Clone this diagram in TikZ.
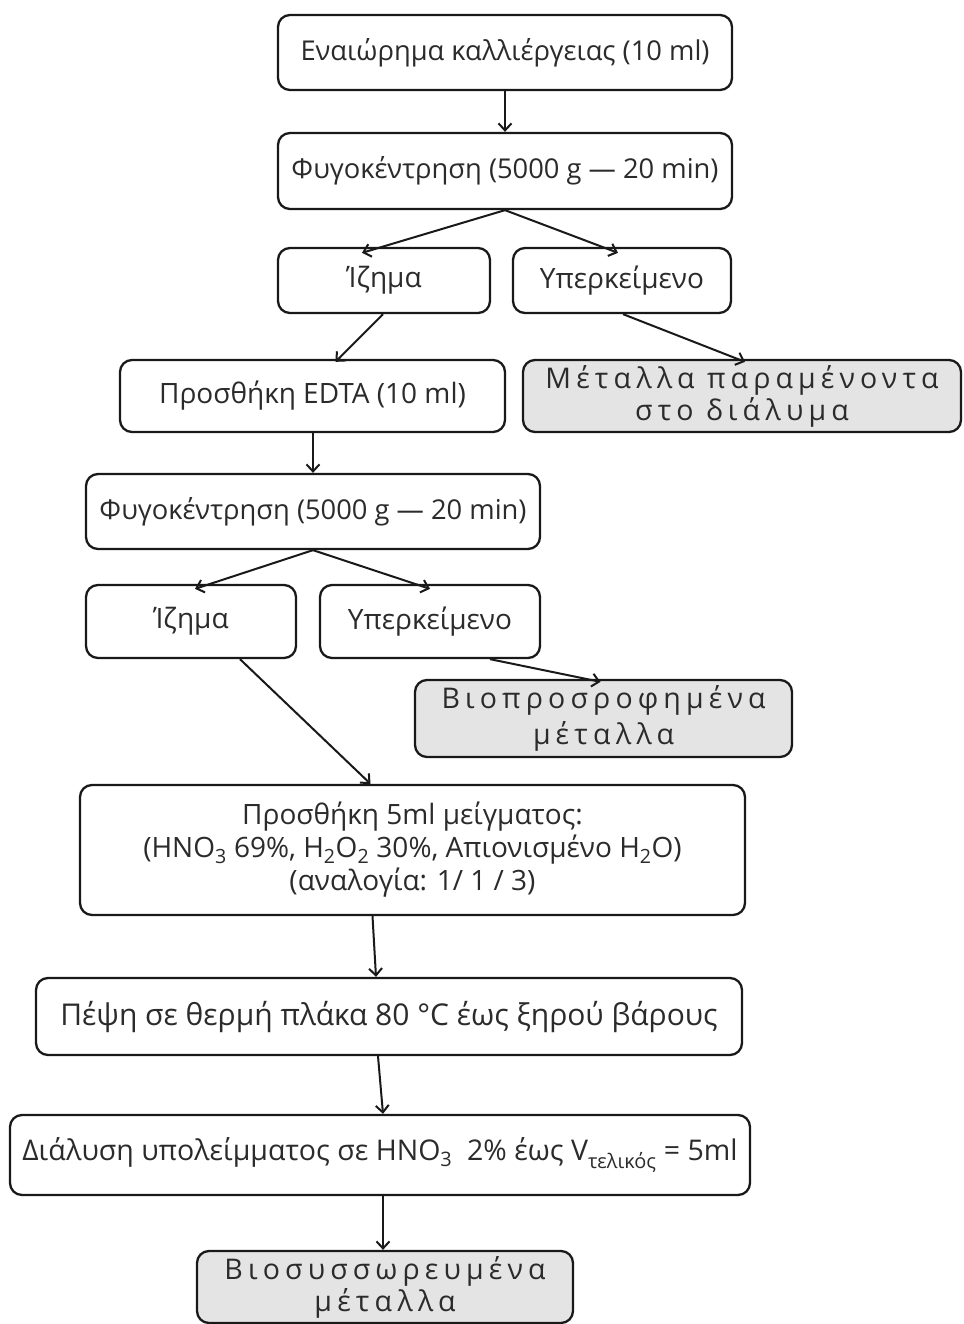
\documentclass[tikz,border=0pt]{standalone}
\usepackage{fontspec}
\setmainfont{Open Sans}
\newfontfamily\spacedfont[LetterSpace=18]{Open Sans}
\usetikzlibrary{arrows.meta,calc}
\definecolor{txt}{HTML}{2B2B2B}
\definecolor{grayfill}{HTML}{E4E4E4}
\tikzset{
  stepbox/.style={draw=black!90, line width=2.3pt, rounded corners=12pt, fill=white,
     text=txt, align=center, inner sep=0pt, font=\fontsize{28}{30}\selectfont},
  resbox/.style={stepbox, fill=grayfill, font=\spacedfont\fontsize{28.5}{32}\selectfont},
  conn/.style={draw=black!90, line width=2pt, -{Straight Barb[length=7pt,width=13pt,line width=2pt]}},
}
\begin{document}
\begin{tikzpicture}[x=1pt,y=-1pt]
\useasboundingbox (0,0) rectangle (963,1324);
\node[stepbox, minimum width=454pt, minimum height=75pt, font=\fontsize{27.3}{30}\selectfont] (b1) at (505,52.5) {Εναιώρημα καλλιέργειας (10 ml)};
\node[stepbox, minimum width=454pt, minimum height=76pt, font=\fontsize{27.3}{30}\selectfont] (b2) at (505,171) {Φυγοκέντρηση (5000 g — 20 min)};
\node[stepbox, minimum width=212pt, minimum height=65pt] (i1) at (384,280.5) {Ίζημα};
\node[stepbox, minimum width=218pt, minimum height=65pt] (y1) at (622,280.5) {Υπερκείμενο};
\node[stepbox, minimum width=385pt, minimum height=72pt] (edta) at (312.5,396) {Προσθήκη EDTA (10 ml)};
\node[resbox, minimum width=438pt, minimum height=72pt] (m1) at (742,396) {Μέταλλα παραμένοντα\\στο διάλυμα};
\node[stepbox, minimum width=454pt, minimum height=75pt, font=\fontsize{27.3}{30}\selectfont] (f2) at (313,511.5) {Φυγοκέντρηση (5000 g — 20 min)};
\node[stepbox, minimum width=210pt, minimum height=73pt] (i2) at (191,621.5) {Ίζημα};
\node[stepbox, minimum width=220pt, minimum height=73pt] (y2) at (430,621.5) {Υπερκείμενο};
\node[resbox, minimum width=377pt, minimum height=77pt, font=\spacedfont\fontsize{28.5}{36}\selectfont] (bio) at (603.5,718.5) {Βιοπροσροφημένα\\μέταλλα};
\node[stepbox, minimum width=665pt, minimum height=130pt, font=\fontsize{28}{33}\selectfont] (add) at (412.5,850) {Προσθήκη 5ml μείγματος:\\(HNO\textsubscript{3} 69\%, H\textsubscript{2}O\textsubscript{2} 30\%, Απιονισμένο H\textsubscript{2}O)\\(αναλογία: 1/ 1 / 3)};
\node[stepbox, minimum width=706pt, minimum height=77pt, font=\fontsize{30}{32}\selectfont] (pep) at (389,1016.5) {Πέψη σε θερμή πλάκα 80 °C έως ξηρού βάρους};
\node[stepbox, minimum width=740pt, minimum height=80pt, font=\fontsize{28.5}{32}\selectfont] (dial) at (380,1155) {Διάλυση υπολείμματος σε HNO\textsubscript{3}\ \ 2\% έως V\textsubscript{τελικός} = 5ml};
\node[resbox, minimum width=376pt, minimum height=72pt] (fin) at (385,1287) {Βιοσυσσωρευμένα\\μέταλλα};

\draw[conn] (b1.south) -- (b2.north);
\draw[conn] (b2.south) -- ([xshift=-22pt,yshift=-6pt]i1.north);
\draw[conn] (b2.south) -- ([xshift=-4pt,yshift=-6pt]y1.north);
\draw[conn] ([xshift=-1pt]i1.south) -- ([xshift=23pt,yshift=-3pt]edta.north);
\draw[conn] ([xshift=1pt]y1.south) -- ([xshift=3pt,yshift=-3pt]m1.north);
\draw[conn] ([xshift=0.5pt]edta.south) -- (f2.north);
\draw[conn] (f2.south) -- ([xshift=4pt,yshift=-5pt]i2.north);
\draw[conn] (f2.south) -- ([yshift=-5pt]y2.north);
\draw[conn] ([xshift=49pt]i2.south) -- ([xshift=-42pt]add.north);
\draw[conn] ([xshift=60pt]y2.south) -- ([xshift=-3pt,yshift=-3pt]bio.north);
\draw[conn] ([xshift=-40pt]add.south) -- ([xshift=-13pt]pep.north);
\draw[conn] ([xshift=-11pt]pep.south) -- ([xshift=3pt]dial.north);
\draw[conn] ([xshift=3pt]dial.south) -- ([xshift=-2pt]fin.north);
\end{tikzpicture}
\end{document}
